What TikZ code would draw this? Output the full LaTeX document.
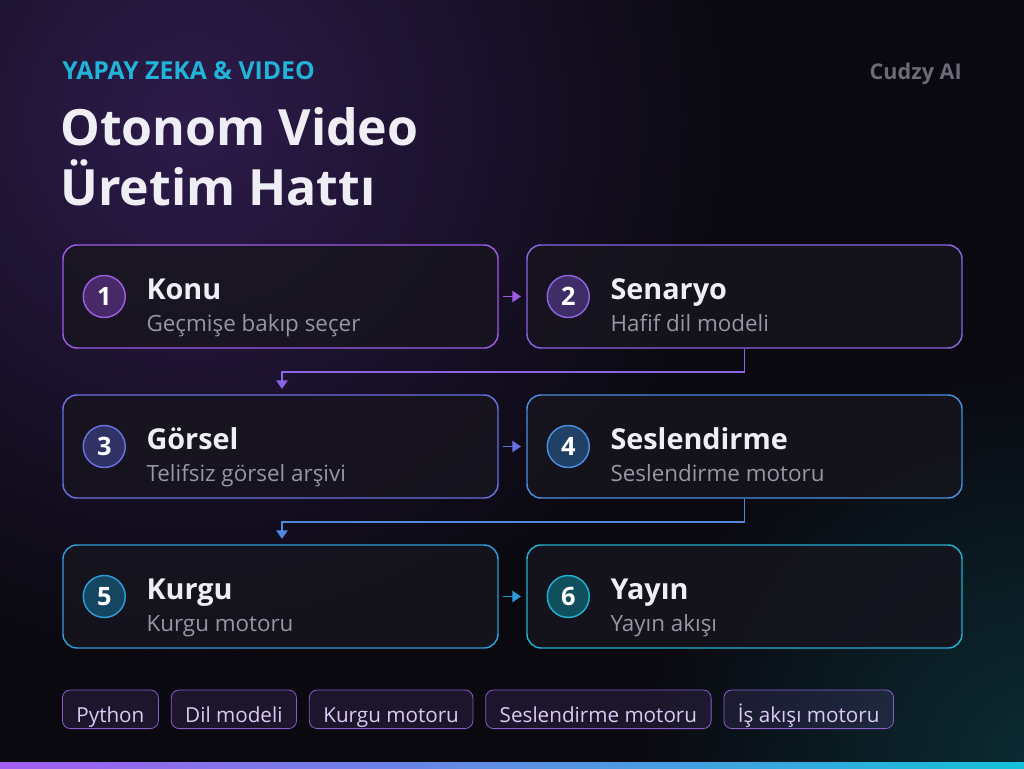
\documentclass[tikz,border=0pt]{standalone}
\usepackage{fontspec}
\setmainfont{Open Sans}
\usetikzlibrary{arrows.meta,positioning}
\definecolor{bgdark}{HTML}{0A0910}
\definecolor{glowpurple}{HTML}{2D1B4B}
\definecolor{glowteal}{HTML}{0B2C34}
\definecolor{kicker}{HTML}{22B4D8}
\definecolor{brand}{HTML}{6C6A78}
\definecolor{titlewhite}{HTML}{F0EEF5}
\definecolor{subgray}{HTML}{9896A4}
\definecolor{cardfill}{HTML}{17151E}
\definecolor{cA}{HTML}{9D5CE6}
\definecolor{cB}{HTML}{8A64E2}
\definecolor{cC}{HTML}{6A70E0}
\definecolor{cD}{HTML}{4A8EE0}
\definecolor{cE}{HTML}{2E9CD8}
\definecolor{cF}{HTML}{22B0D0}
\definecolor{tagline}{HTML}{8A5CC8}
\definecolor{tagtext}{HTML}{DCCBF5}
\definecolor{tagfill}{HTML}{A070F0}
\definecolor{barpurple}{HTML}{A35EF0}
\definecolor{barblue}{HTML}{5A8AE8}
\definecolor{barcyan}{HTML}{14C0D8}

\begin{document}
\begin{tikzpicture}[x=0.75pt,y=-0.75pt,
   card/.style={draw=#1, line width=1.1pt, rounded corners=10.5pt, fill=cardfill,
     fill opacity=0.8, draw opacity=1, minimum width=326.25pt, minimum height=77.25pt},
   num/.style={circle, draw=#1, line width=1.1pt, fill=#1!45!black, text=white,
     font=\bfseries\fontsize{19}{19}\selectfont, minimum size=31.5pt, inner sep=0pt},
   head/.style={anchor=base west, inner sep=0pt, text=titlewhite,
     font=\bfseries\fontsize{21.6}{24}\selectfont},
   sub/.style={anchor=base west, inner sep=0pt, text=subgray,
     font=\fontsize{16.8}{20}\selectfont},
   flow/.style={draw=#1, line width=1.4pt, -{Triangle[length=6.5pt,width=8.5pt]},
     shorten <=3pt, shorten >=4pt},
   tag/.style={draw=tagline, line width=0.6pt, rounded corners=6pt, fill=tagfill,
     fill opacity=0.12, draw opacity=1, text opacity=1, text=tagtext,
     font=\fontsize{15.5}{18}\selectfont, inner xsep=10.5pt, inner ysep=2pt,
     text height=22.5pt, text depth=2.5pt}]
  \useasboundingbox (0,0) rectangle (1024,768);
  % background
  \fill[bgdark] (0,0) rectangle (1024,768);
  \shade[inner color=glowpurple, outer color=bgdark] (190,120) circle (540);
  \shade[inner color=glowteal, outer color=bgdark] (1040,770) circle (400);
  \shade[left color=barpurple, middle color=barblue, right color=barcyan] (0,762) rectangle (1024,768);

  % header
  \node[anchor=base west, inner sep=0pt, text=kicker, font=\bfseries\fontsize{18.6}{20}\selectfont]
    (kick) at (62,79) {YAPAY ZEKA \& VIDEO};
  \node[anchor=base east, inner sep=0pt, text=brand, font=\bfseries\fontsize{16.2}{18}\selectfont]
    (brand) at (962,79) {Cudzy AI};
  \node[anchor=base west, inner sep=0pt, text=titlewhite, font=\bfseries\fontsize{37.5}{40}\selectfont]
    (title1) at (60,145) {Otonom Video};
  \node[anchor=base west, inner sep=0pt, text=titlewhite, font=\bfseries\fontsize{37.5}{40}\selectfont]
    (title2) at (60,205) {Üretim Hattı};

  % cards
  \node[card=cA] (c1) at (280.5,296.5) {};
  \node[card=cB] (c2) at (744.5,296.5) {};
  \node[card=cC] (c3) at (280.5,446.5) {};
  \node[card=cD] (c4) at (744.5,446.5) {};
  \node[card=cE] (c5) at (280.5,596.5) {};
  \node[card=cF] (c6) at (744.5,596.5) {};

  \node[num=cA] (n1) at ([xshift=31.5pt]c1.west) {1};
  \node[head] (h1) at ([xshift=63pt,yshift=-2.6pt]c1.west) {Konu};
  \node[sub] (s1) at ([xshift=63pt,yshift=-26.6pt]c1.west) {Geçmişe bakıp seçer};

  \node[num=cB] (n2) at ([xshift=31.5pt]c2.west) {2};
  \node[head] (h2) at ([xshift=63pt,yshift=-2.6pt]c2.west) {Senaryo};
  \node[sub] (s2) at ([xshift=63pt,yshift=-26.6pt]c2.west) {Hafif dil modeli};

  \node[num=cC] (n3) at ([xshift=31.5pt]c3.west) {3};
  \node[head] (h3) at ([xshift=63pt,yshift=-2.6pt]c3.west) {Görsel};
  \node[sub] (s3) at ([xshift=63pt,yshift=-26.6pt]c3.west) {Telifsiz görsel arşivi};

  \node[num=cD] (n4) at ([xshift=31.5pt]c4.west) {4};
  \node[head] (h4) at ([xshift=63pt,yshift=-2.6pt]c4.west) {Seslendirme};
  \node[sub] (s4) at ([xshift=63pt,yshift=-26.6pt]c4.west) {Seslendirme motoru};

  \node[num=cE] (n5) at ([xshift=31.5pt]c5.west) {5};
  \node[head] (h5) at ([xshift=63pt,yshift=-2.6pt]c5.west) {Kurgu};
  \node[sub] (s5) at ([xshift=63pt,yshift=-26.6pt]c5.west) {Kurgu motoru};

  \node[num=cF] (n6) at ([xshift=31.5pt]c6.west) {6};
  \node[head] (h6) at ([xshift=63pt,yshift=-2.6pt]c6.west) {Yayın};
  \node[sub] (s6) at ([xshift=63pt,yshift=-26.6pt]c6.west) {Yayın akışı};

  % links
  \draw[flow=cA] (c1) -- (c2);
  \draw[flow=cC] (c3) -- (c4);
  \draw[flow=cE] (c5) -- (c6);
  \draw[flow=cB, shorten <=0pt] (c2.south) -- ++(0,23) -| ([xshift=1.1pt]c3.north);
  \draw[flow=cD!80!cC, shorten <=0pt] (c4.south) -- ++(0,23) -| ([xshift=1.1pt]c5.north);

  % tags
  \node[tag, anchor=south west] (g1) at (62,729) {Python};
  \node[tag, right=9pt of g1] (g2) {Dil modeli};
  \node[tag, right=9pt of g2] (g3) {Kurgu motoru};
  \node[tag, right=9pt of g3] (g4) {Seslendirme motoru};
  \node[tag, right=9pt of g4] (g5) {İş akışı motoru};
\end{tikzpicture}
\end{document}
